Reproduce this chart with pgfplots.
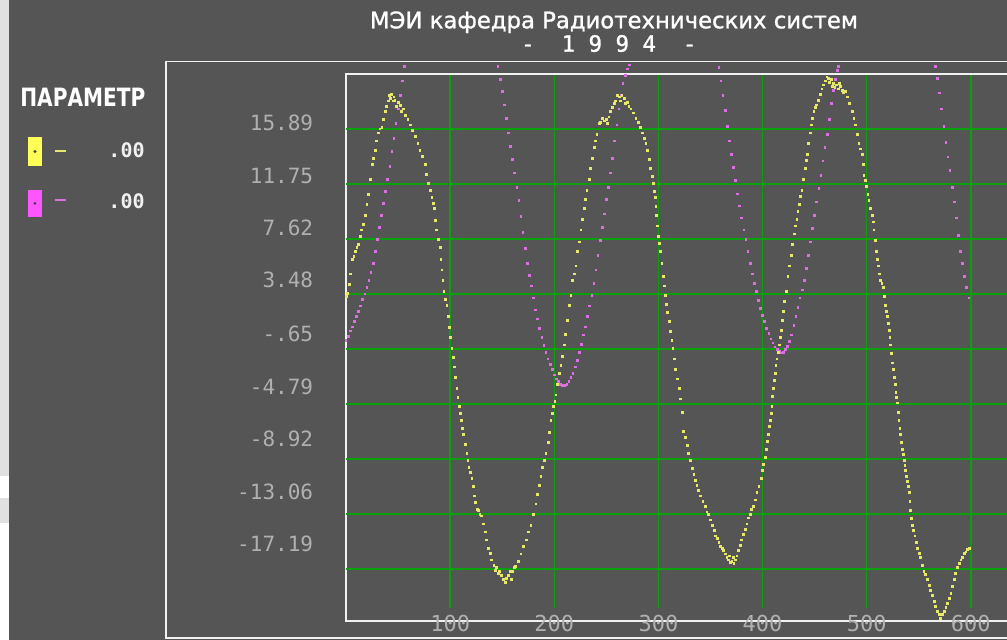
\documentclass[border=0pt]{standalone}
\usepackage{fontspec}
\setmainfont{DejaVu Sans}
\newfontfamily\monofont{DejaVu Sans Mono}
\newfontfamily\titlefont[FakeBold=1.2]{DejaVu Sans}
\newfontfamily\titlemono[FakeBold=1.2]{DejaVu Sans Mono}
\usepackage{graphicx}
\usepackage{pgfplots}
\pgfplotsset{compat=1.18}
\definecolor{bg}{HTML}{555555}
\definecolor{strip}{HTML}{E0E0E0}
\definecolor{fr}{HTML}{F0F0F0}
\definecolor{gridg}{HTML}{0AA00A}
\definecolor{tl}{HTML}{B0B0B0}
\definecolor{ydot}{HTML}{E8E868}
\definecolor{mdot}{HTML}{DD6EE4}
\definecolor{ylw}{HTML}{FFFF55}
\definecolor{mag}{HTML}{FF55FF}
\definecolor{dotdark}{HTML}{404040}
\begin{document}
\begin{tikzpicture}[x=1pt,y=1pt]
% background
\fill[bg] (4.5,0) rectangle (503.5,320);
\fill[strip] (0,82) rectangle (4.5,320);
\fill[white] (0,71) rectangle (4.5,82);
\fill[strip] (0,58.5) rectangle (4.5,71);
\fill[white] (0,0) rectangle (4.5,58.5);
% outer frame
\draw[fr, line width=0.75pt] (83,1) rectangle (515,289.25);
\begin{axis}[
  at={(173pt,9.5pt)}, anchor=south west,
  scale only axis, width=333.25pt, height=273.5pt,
  xmin=0, xmax=640, ymin=-21.10, ymax=20.025,
  clip=false,
  axis line style={fr, line width=0.75pt},
  xtick={100,200,300,400,500,600},
  xticklabels={100,200,300,400,500,600},
  xtick pos=right, xticklabel pos=left,
  tick align=inside,
  major tick length=267pt,
  xtick style={draw=gridg, line width=0.7pt},
  xticklabel style={font=\monofont\fontsize{11}{13}\selectfont, text=tl, anchor=center, inner sep=0pt, yshift=-1.2pt},
  ytick={-15.31,-11.38,-7.42,-3.49,0.51,4.54,8.45,12.36,16.38},
  yticklabels={-17.19,-13.06,-8.92,-4.79,-.65,3.48,7.62,11.75,15.89},
  ytick style={draw=none},
  yticklabel style={font=\monofont\fontsize{10.5}{12}\selectfont, text=tl, anchor=east, inner sep=0pt, xshift=-16.25pt},
  extra y ticks={15.89,11.755,7.62,3.485,-0.65,-4.785,-8.92,-13.055,-17.19},
  extra y tick labels={},
  extra y tick style={grid=major, major tick length=0pt},
  major grid style={draw=gridg, line width=0.7pt},
]
\addplot[only marks, mark=square*, mark size=0.42pt, color=mdot] coordinates {
(0,0.0)(2,0.3)(4,0.7)(6,1.0)(8,1.4)(10,1.8)(12,2.2)(14,2.6)(16,3.1)(18,3.5)(20,4.0)(22,4.5)(24,5.1)(26,5.8)(28,6.7)(30,7.6)(32,8.5)(34,9.4)(36,10.3)(38,11.2)(40,12.1)(42,13.1)(44,14.2)(46,15.2)(48,16.3)(50,17.4)(52,18.4)(54,19.5)(56,20.6)
(146,20.6)(148,19.6)(150,18.7)(152,17.7)(154,16.7)(156,15.6)(158,14.6)(160,13.6)(162,12.6)(164,11.5)(166,10.5)(168,9.3)(170,8.1)(172,6.9)(174,5.8)(176,4.9)(178,4.1)(180,3.2)(182,2.3)(184,1.6)(186,0.9)(188,0.2)(190,-0.4)(192,-0.9)(194,-1.4)(196,-1.8)(198,-2.2)(200,-2.6)(202,-2.9)(204,-3.1)(206,-3.3)(208,-3.4)(210,-3.4)(212,-3.3)(214,-3.1)(216,-2.8)(218,-2.5)(220,-2.0)(222,-1.5)(224,-0.9)(226,-0.3)(228,0.4)(230,1.0)(232,1.8)(234,2.6)(236,3.4)(238,4.3)(240,5.3)(242,6.4)(244,7.5)(246,8.5)(248,9.5)(250,10.6)(252,11.5)(254,12.6)(256,13.7)(258,15.0)(260,16.2)(262,17.4)(264,18.4)(266,19.3)(268,19.9)(270,20.4)(272,20.7)
(358,20.5)(360,19.5)(362,18.4)(364,17.3)(366,16.1)(368,15.0)(370,14.0)(372,13.0)(374,12.0)(376,11.0)(378,10.1)(380,9.2)(382,8.3)(384,7.6)(386,6.7)(388,5.8)(390,5.0)(392,4.3)(394,3.7)(396,3.0)(398,2.4)(400,1.9)(402,1.4)(404,0.9)(406,0.5)(408,0.1)(410,-0.2)(412,-0.5)(414,-0.7)(416,-0.85)(418,-0.95)(420,-0.9)(422,-0.7)(424,-0.45)(426,-0.1)(428,0.4)(430,1.1)(432,1.8)(434,2.5)(436,3.2)(438,3.8)(440,4.5)(442,5.4)(444,6.4)(446,7.4)(448,8.4)(450,9.4)(452,10.4)(454,11.4)(456,12.4)(458,13.5)(460,14.5)(462,15.5)(464,16.6)(466,17.8)(468,18.8)(470,19.6)(472,20.3)(473,20.6)
(566,20.6)(568,19.7)(570,18.6)(572,17.4)(574,16.1)(576,14.9)(578,13.8)(580,12.8)(582,11.5)(584,10.4)(586,9.2)(588,7.9)(590,6.7)(592,5.8)(594,4.8)(596,4.0)(598,3.2)
};
\addplot[only marks, mark=square*, mark size=0.45pt, color=ydot] coordinates {
(0,3.3)(1.5,3.5)(3,4.2)(4.5,5.0)(6,6.1)(7.5,6.3)(9,6.7)(10.5,7.0)(12,7.2)(13.5,7.8)(15,8.3)(16.5,8.7)(18.5,9.4)(20,10.2)(21.7,11.0)(23.3,12.1)(25,13.2)(26.5,13.7)(28,14.3)(29.5,15.0)(31,15.6)(32.5,15.9)(34.5,16.0)(36,16.6)(37.7,17.2)(39,17.6)(40.5,18.0)(41.5,18.4)(42.5,18.2)(43.5,18.5)(45,18.0)(46,18.3)(47,18.05)(48.5,17.6)(50,17.9)(52,17.65)(53.5,17.2)(55,17.4)(57,16.9)(59.5,16.6)(61.7,16.2)(64,15.8)(66.5,15.35)(69,14.8)(71,14.3)(73.5,13.8)(76,13.2)(77.5,12.5)(79,11.8)(80.8,11.3)(82.4,10.75)(84,10.3)(85,9.9)(86,9.0)(87,8.3)(88.7,7.6)(90.4,7.0)(91.2,6.1)(92,5.3)(93,4.5)(94,3.7)(95.5,3.1)(96.8,2.6)(98,1.8)(99,1.0)(100.3,0.2)(101.6,-0.6)(102.8,-1.3)(104,-2.0)(105.2,-2.8)(106.4,-3.6)(107.5,-4.3)(108.6,-4.95)(109.5,-5.5)(110.5,-6.0)(111.7,-6.6)(112.8,-7.1)(114.4,-7.8)(116,-8.5)(117,-9.0)(118,-9.55)(119.4,-9.9)(120.8,-10.4)(122,-11.0)(123,-11.7)(124.5,-12.2)(126,-12.7)(127.5,-12.8)(128.5,-13.1)(130,-13.2)(131.8,-13.8)(133.5,-14.4)(135,-15.0)(136.7,-15.65)(138.3,-16.0)(140,-16.5)(142,-16.9)(143.5,-17.3)(144.7,-17.1)(146,-17.5)(147.5,-17.4)(149.5,-17.7)(151,-18.0)(152.7,-18.2)(154,-17.9)(156,-17.7)(157.3,-17.4)(158.5,-17.95)(160,-17.4)(161.5,-17.1)(163,-17.0)(165.5,-16.6)(168,-16.05)(170.5,-15.5)(173,-15.0)(175.3,-14.4)(177.6,-13.9)(180,-13.1)(182.4,-12.3)(184,-11.6)(185.6,-10.9)(187.2,-10.2)(188.8,-9.55)(190.4,-9.0)(192,-8.5)(194,-7.7)(195.4,-6.9)(196.8,-6.0)(198,-5.5)(199.4,-4.95)(200.5,-4.6)(201.6,-4.1)(203.2,-3.3)(204.8,-2.5)(206.4,-1.9)(208,-1.2)(209.6,-0.35)(211,0.46)(212.8,1.5)(214.4,2.6)(216,3.4)(217.6,4.5)(219.2,5.0)(220.8,5.6)(222.4,6.7)(224,7.4)(225.6,8.3)(227.2,9.1)(228.8,9.9)(230,10.6)(231.3,11.3)(233.5,12.1)(235,12.9)(236.6,13.7)(238.3,14.5)(239.6,15.0)(241,15.5)(243,16.3)(244.5,16.4)(246.3,16.7)(248.5,16.5)(250,16.6)(251,16.3)(252.5,16.8)(254,17.2)(255.8,17.5)(257.5,17.8)(259,18.0)(260.5,18.4)(262.3,18.3)(263.5,18.0)(265,18.4)(267,18.2)(268.5,17.8)(270,17.9)(271.7,17.6)(273.5,17.4)(276,17.1)(278.3,16.7)(280.5,16.4)(283,16.0)(284.6,15.6)(286.3,15.2)(288,14.8)(289.5,14.3)(291,13.6)(292.6,12.9)(294,12.3)(295,11.8)(296,11.2)(296.8,10.75)(297.6,10.1)(298.4,9.4)(299.2,8.6)(300,7.8)(301,7.3)(302,6.7)(303.4,5.8)(304.8,4.8)(306,4.1)(307,3.4)(308,2.7)(309,2.1)(310.4,1.4)(311.7,0.7)(313,0.0)(314,-0.6)(315.3,-1.4)(316.6,-2.2)(318.2,-2.9)(319.8,-3.6)(321,-4.4)(322.7,-5.4)(324.3,-6.85)(326,-7.3)(327.5,-7.9)(329,-8.5)(330.7,-9.0)(332.3,-9.6)(334,-10.1)(335.5,-10.5)(337,-10.9)(338.7,-11.3)(340.4,-11.7)(342.7,-12.1)(345,-12.5)(346.5,-12.9)(348,-13.1)(350,-13.5)(351.8,-13.9)(353.4,-14.3)(355,-14.7)(356.5,-14.9)(358,-15.2)(359.7,-15.5)(361.4,-15.65)(362.7,-15.8)(364,-16.05)(365.7,-16.3)(367.4,-16.5)(368.5,-16.2)(369.2,-16.7)(370.6,-16.6)(371.8,-16.3)(372.5,-16.8)(373.8,-16.5)(375.4,-16.2)(377,-15.8)(378.5,-15.4)(380,-15.0)(381.7,-14.6)(383.4,-14.2)(385,-13.8)(386.6,-13.35)(388,-13.1)(389.5,-12.7)(391.4,-12.5)(393,-12.0)(394.6,-11.45)(396.5,-11.0)(398.7,-10.4)(400,-9.8)(401,-9.3)(402.5,-8.8)(404,-8.2)(405,-7.6)(405.8,-7.1)(406.6,-6.5)(407.3,-6.0)(408.2,-5.5)(409,-4.95)(409.8,-4.2)(410.5,-3.6)(411.2,-3.0)(412,-2.5)(412.9,-1.9)(413.7,-1.4)(415,-0.9)(416,-0.35)(417,0.2)(418,0.73)(419,1.5)(420,2.2)(421,2.9)(422.7,3.7)(424.3,4.8)(426,5.6)(427.5,6.4)(429,7.2)(430.7,8.0)(431.8,8.6)(433,9.1)(434,9.7)(435,10.2)(436.3,10.8)(437.7,11.3)(439.3,12.1)(441,12.9)(442,13.5)(443,14.0)(444.4,14.8)(445.8,15.6)(447,16.2)(448,16.7)(449.3,17.2)(450.5,17.5)(452,17.7)(453.7,18.05)(455.4,18.5)(457,18.9)(458.5,19.2)(460,19.5)(461.7,19.8)(463.3,19.7)(464.5,19.4)(466,19.6)(467,19.1)(468,19.3)(469.5,19.0)(471,19.2)(472.9,18.9)(474,19.3)(475,19.1)(476.3,18.8)(477.7,18.6)(479.5,18.7)(481.4,18.3)(483.6,17.8)(486,17.2)(487.7,16.7)(489.4,16.2)(491,15.5)(492.6,14.8)(494.2,14.4)(495.8,14.0)(496.6,13.2)(497.4,12.4)(498.7,12.0)(500,11.6)(501.1,11.0)(502.2,10.5)(503.8,9.9)(505.4,9.4)(506.2,8.9)(507,8.3)(508.2,7.5)(509.3,6.7)(510.2,6.1)(511.2,5.6)(512.4,5.0)(513.5,4.5)(514.6,4.3)(515.7,4.0)(516.7,3.3)(517.6,2.6)(518.8,2.2)(519.9,1.8)(520.7,1.3)(521.5,0.73)(522.2,0.2)(523,-0.35)(523.9,-1.0)(524.7,-1.7)(525.5,-2.2)(526.3,-2.8)(527.2,-3.3)(528,-3.9)(528.8,-4.3)(529.5,-4.7)(530.2,-5.4)(531,-6.0)(531.9,-6.6)(532.7,-7.1)(533.5,-7.7)(534.3,-8.2)(535.1,-8.6)(535.9,-9.0)(536.7,-9.4)(537.5,-9.8)(538.3,-10.2)(539.1,-10.6)(539.9,-11.0)(540.7,-11.45)(541.5,-12.1)(542.3,-12.8)(543.1,-13.4)(543.9,-13.9)(545,-14.3)(546.2,-14.7)(547.5,-15.2)(548.7,-15.65)(550.3,-16.0)(551.9,-16.3)(553.5,-16.9)(555,-17.4)(556.7,-17.6)(558.3,-17.95)(560,-18.4)(561.5,-18.8)(563,-19.2)(564.7,-19.6)(566.3,-20.0)(567.9,-20.4)(569.5,-20.6)(571,-20.9)(572.7,-20.6)(574.4,-20.4)(576,-20.1)(577.6,-19.8)(579.2,-19.4)(580.8,-19.0)(582.4,-18.5)(584,-17.95)(585.5,-17.5)(587,-17.1)(588.7,-16.8)(590.4,-16.5)(592,-16.3)(593.5,-16.0)(595.2,-15.9)(596.8,-15.7)(598.4,-15.65)
};
\end{axis}
% title
\node[anchor=base, inner sep=0pt, text=white] at (307,305.85) {\resizebox{244pt}{!}{\titlefont\fontsize{11}{13}\selectfont МЭИ кафедра Радиотехнических систем}};
\node[anchor=base, inner sep=0pt, text=white] at (304.4,294.15) {\titlemono\fontsize{11.2}{13}\selectfont -~~1~9~9~4~~-};
% parameter panel
\node[anchor=base west, inner sep=0pt, text=white] at (10,266.65) {\resizebox{62.5pt}{9.2pt}{\bfseries ПАРАМЕТР}};
\fill[ylw] (14.15,237) rectangle (20.85,251.35);
\fill[dotdark] (17.5,244.2) circle (0.8);
\draw[ydot, line width=1pt] (27.5,244.65) -- (33,244.65);
\node[anchor=base east, inner sep=0pt, text=fr] at (72.5,241) {\monofont\bfseries\fontsize{10}{12}\selectfont .00};
\fill[mag] (14.15,211.65) rectangle (20.85,225);
\fill[dotdark] (17.5,218.3) circle (0.8);
\draw[mdot, line width=1pt] (27.5,220) -- (33,220);
\node[anchor=base east, inner sep=0pt, text=fr] at (72.5,215.85) {\monofont\bfseries\fontsize{10}{12}\selectfont .00};
\pgfresetboundingbox
\path[use as bounding box] (0,0) rectangle (503.5,320);
\end{tikzpicture}
\end{document}
